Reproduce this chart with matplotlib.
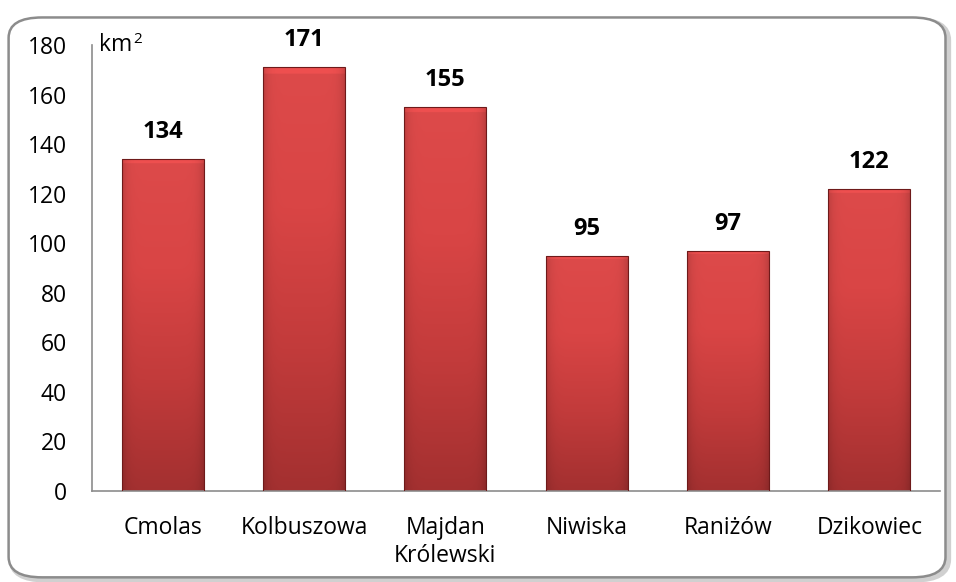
import numpy as np
import matplotlib.pyplot as plt
from matplotlib.patches import FancyBboxPatch
from matplotlib.colors import LinearSegmentedColormap

gminy = ['Cmolas', 'Kolbuszowa', 'Majdan\nKrólewski', 'Niwiska', 'Raniżów', 'Dzikowiec']
powierzchnia = [134, 171, 155, 95, 97, 122]
yticks = [0, 20, 40, 60, 80, 100, 120, 140, 160, 180]

plt.rcParams['font.family'] = ['Open Sans', 'DejaVu Sans']

fig = plt.figure(figsize=(9.56, 5.82), dpi=100)

# rounded frame around whole chart
shadow = FancyBboxPatch((0.012, 0.004), 0.98, 0.962, boxstyle='round,pad=0,rounding_size=0.035',
                        transform=fig.transFigure, facecolor='none', edgecolor='#d0d0d0', lw=4, zorder=-2)
frame = FancyBboxPatch((0.009, 0.008), 0.98, 0.962, boxstyle='round,pad=0,rounding_size=0.035',
                       transform=fig.transFigure, facecolor='white', edgecolor='#8c8c8c', lw=1.8, zorder=-1)
fig.patches.extend([shadow, frame])

ax = fig.add_axes([0.0962, 0.1564, 0.8871, 0.7663])
ax.set_zorder(5)
ax.set_facecolor('none')
x = np.arange(len(gminy))
bars = ax.bar(x, powierzchnia, width=0.58, color='none', edgecolor='#6e1a1a', lw=0.8, zorder=3)

# gradient fill for each bar
cmap = LinearSegmentedColormap.from_list('red', ['#a33030', '#c23b3b', '#d94545', '#dd4a4a'])
grad = np.linspace(0, 1, 256).reshape(-1, 1)
side = np.linspace(-1, 1, 64)
shade = 1 - 0.14 * side ** 8
for b in bars:
    x0, w, h = b.get_x(), b.get_width(), b.get_height()
    img = cmap(np.repeat(grad, 64, axis=1))
    img[..., :3] *= shade[None, :, None]
    # lighter top bevel
    img[-4:, :, :3] = np.clip(img[-4:, :, :3] * 1.08, 0, 1)
    im = ax.imshow(img, extent=[x0, x0 + w, 0, h], origin='lower', aspect='auto', zorder=2)
    im.set_clip_path(b)
    ax.text(x0 + w / 2, h + 6, str(int(h)), ha='center', va='bottom',
            fontsize=17, fontweight='bold', color='black')

ax.set_xlim(-0.5, len(gminy) - 0.5)
ax.set_ylim(0, 180)
ax.set_yticks(yticks)
ax.set_xticks(x)
ax.set_xticklabels(gminy, fontsize=16.5, linespacing=1.25)
ax.tick_params(axis='y', labelsize=16.5, length=0, pad=18)
ax.tick_params(axis='x', length=0, pad=18)
for s in ['top', 'right']:
    ax.spines[s].set_visible(False)
for s in ['left', 'bottom']:
    ax.spines[s].set_color('#8c8c8c')
    ax.spines[s].set_linewidth(1.2)

ax.text(0.008, 1.0, 'km', transform=ax.transAxes, fontsize=16.5, ha='left', va='center')
ax.annotate('2', xy=(0.008, 1.0), xycoords='axes fraction', xytext=(25, 4),
            textcoords='offset points', fontsize=11, ha='left', va='center')

fig.savefig('out.png', dpi=100)
